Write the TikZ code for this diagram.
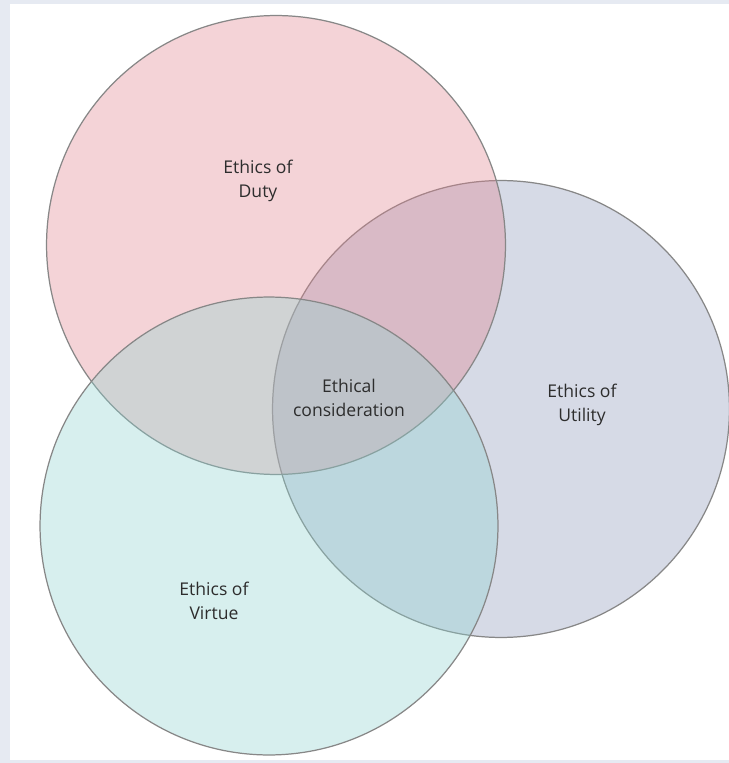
\documentclass[tikz,border=0pt]{standalone}
\usepackage{fontspec}
\setmainfont{Open Sans}
\usetikzlibrary{positioning}
\definecolor{dutyfill}{RGB}{224,129,141}
\definecolor{utilfill}{RGB}{138,149,184}
\definecolor{virtfill}{RGB}{141,212,209}
\definecolor{ringline}{RGB}{135,135,135}
\definecolor{framebg}{RGB}{230,234,242}
\definecolor{labeltext}{RGB}{45,45,45}
\tikzset{
  ring/.style={draw=ringline, line width=0.7pt, fill opacity=0.35},
  ringlabel/.style={align=center, font=\fontsize{10}{13.6}\selectfont, text=labeltext}
}
\begin{document}
\begin{tikzpicture}[x=0.02cm,y=-0.02cm]
            % frame and page
            \fill[framebg] (0,0) rectangle (729,763);
            \fill[white] (10,4) rectangle (729,760);
            \useasboundingbox (0,0) rectangle (729,763);
            % the three circles
            \node[ring, circle, fill=utilfill, minimum size=9.14cm] (utility) at (501,409) {};
            \node[ring, circle, fill=dutyfill, minimum size=9.18cm] (duty) at (276,245) {};
            \node[ring, circle, fill=virtfill, minimum size=9.16cm] (virtue) at (269,526) {};
            % labels
            \node[ringlabel] (dutylabel) at (258,181) {Ethics of\\Duty};
            \node[ringlabel] (utilitylabel) at (582,405) {Ethics of\\Utility};
            \node[ringlabel] (virtuelabel) at (214,601) {Ethics of\\Virtue};
            \node[ringlabel] (centre) at (349,398) {Ethical\\consideration};
        \end{tikzpicture}
\end{document}
